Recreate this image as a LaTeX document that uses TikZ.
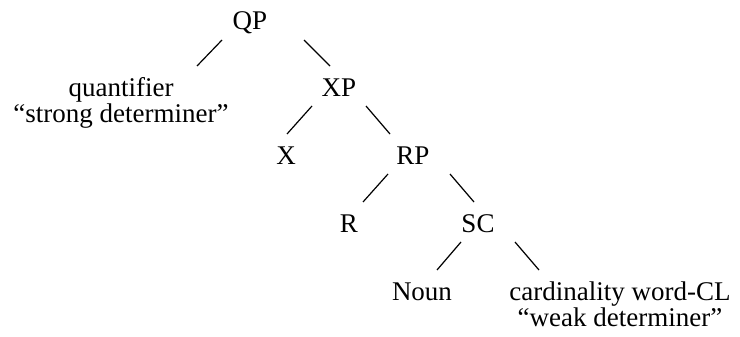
\documentclass[tikz,border=0pt]{standalone}
\usepackage{fontspec}
\setmainfont{Liberation Serif}
\usetikzlibrary{calc}
\tikzset{
cat_box/.style={
	% The shape:
	rectangle,
	% No padding round the text:
	inner sep=0pt,
	% Sits on its baseline:
	anchor=base,
	% Font
	font=\fontsize{13.5}{13}\selectfont
}
}
\tikzset{
gloss_box/.style={
	cat_box,
	% Two lines, centred
	align=center,
	% Hung from its top
	anchor=north
},
branch_line/.style={
	% A plain thin stroke
	line width=0.6pt,
	draw=black
}
}

\begin{document}
\begin{tikzpicture}[x=0.5pt,y=-0.5pt]
	\useasboundingbox (0,0) rectangle (740,337);
	% categories, row by row
	\node[cat_box] (QP) at (250,30) {QP};
	\node[gloss_box] (quant) at (121,77) {quantifier\\“strong determiner”};
	\node[cat_box] (XP) at (339,96) {XP};
	\node[cat_box] (X) at (286,164) {X};
	\node[cat_box] (RP) at (413,164) {RP};
	\node[cat_box] (R) at (349,232) {R};
	\node[cat_box] (SC) at (478,232) {SC};
	\node[cat_box] (Noun) at (422,300) {Noun};
	\node[gloss_box] (card) at (620,281) {cardinality word-CL\\“weak determiner”};
	% branches
	\draw[branch_line] ($(QP.base)+(-28,10)$) -- ($(quant.north)+(76,-11)$);
	\draw[branch_line] ($(QP.base)+(54,10)$) -- ($(XP.base)+(-9,-30)$);
	\draw[branch_line] ($(XP.base)+(-27,10)$) -- ($(X.base)+(1,-30)$);
	\draw[branch_line] ($(XP.base)+(27,10)$) -- ($(RP.base)+(-23,-30)$);
	\draw[branch_line] ($(RP.base)+(-25,10)$) -- ($(R.base)+(14,-30)$);
	\draw[branch_line] ($(RP.base)+(37,10)$) -- ($(SC.base)+(-4,-30)$);
	\draw[branch_line] ($(SC.base)+(-17,10)$) -- ($(Noun.base)+(15,-30)$);
	\draw[branch_line] ($(SC.base)+(37,10)$) -- ($(card.north)+(-81,-11)$);
\end{tikzpicture}
\end{document}
